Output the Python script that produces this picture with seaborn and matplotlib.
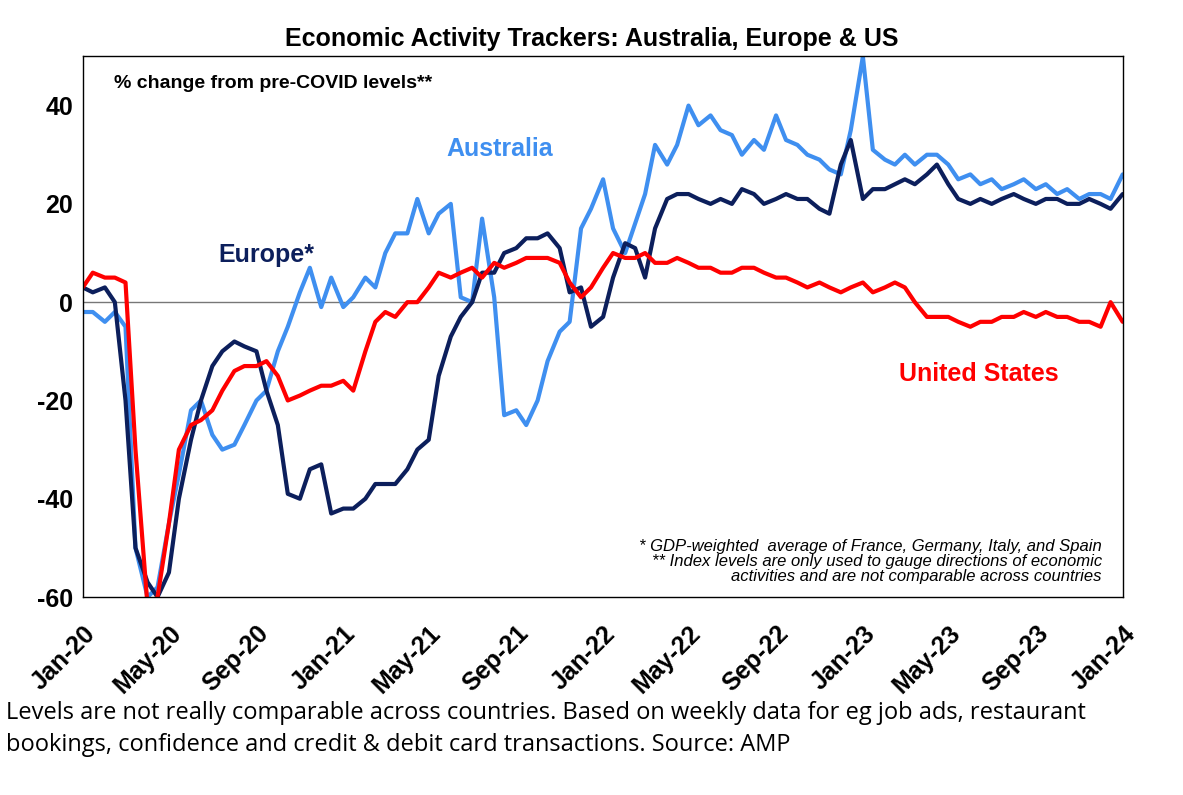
import pandas as pd
import numpy as np
import matplotlib.pyplot as plt
import seaborn as sns

sns.set_style("white")
plt.rcParams['font.family'] = ['Liberation Sans', 'DejaVu Sans']
plt.rcParams['text.color'] = 'black'
plt.rcParams['axes.unicode_minus'] = False

# semi-monthly observation dates
dates = pd.date_range("2020-01-01", "2024-01-01", freq="SMS")

australia = [-2, -2, -4, -2, -5, -50, -60, -58, -45, -35, -22, -20, -27, -30, -29, -25,
             -20, -18, -10, -5, 2, 7, -1, 5, -1, 1, 5, 3, 10, 14, 14, 21, 14, 18, 20, 1,
             0, 17, 1, -23, -22, -25, -20, -12, -6, -4, 15, 19, 25, 15, 10, 16, 22, 32,
             28, 32, 40, 36, 38, 35, 34, 30, 33, 31, 38, 33, 32, 30, 29, 27, 26, 35,
             50, 31, 29, 28, 30, 28, 30, 30, 28, 25, 26, 24, 25, 23, 24, 25, 23, 24, 22, 23,
             21, 22, 22, 21, 26, 19]
europe = [3, 2, 3, 0, -20, -50, -57, -60, -55, -40, -28, -20, -13, -10, -8, -9,
          -10, -18, -25, -39, -40, -34, -33, -43, -42, -42, -40, -37, -37, -37, -34, -30,
          -28, -15, -7, -3, 0, 6, 6, 10, 11, 13, 13, 14, 11, 2, 3, -5, -3, 5,
          12, 11, 5, 15, 21, 22, 22, 21, 20, 21, 20, 23, 22, 20, 21, 22, 21, 21,
          19, 18, 28, 33, 21, 23, 23, 24, 25, 24, 26, 28, 24, 21, 20, 21, 20, 21,
          22, 21, 20, 21, 21, 20, 20, 21, 20, 19, 22, 18]
us = [3, 6, 5, 5, 4, -30, -62, -60, -45, -30, -25, -24, -22, -18, -14, -13,
      -13, -12, -15, -20, -19, -18, -17, -17, -16, -18, -10, -4, -2, -3, 0, 0,
      3, 6, 5, 6, 7, 5, 8, 7, 8, 9, 9, 9, 8, 4, 1, 3, 7, 10,
      9, 9, 10, 8, 8, 9, 8, 7, 7, 6, 6, 7, 7, 6, 5, 5, 4, 3,
      4, 3, 2, 3, 4, 2, 3, 4, 3, 0, -3, -3, -3, -4, -5, -4, -4,
      -3, -3, -2, -3, -2, -3, -3, -4, -4, -5, 0, -4, -2]

df = pd.DataFrame({"date": dates, "Australia": australia[:len(dates)],
                   "Europe": europe[:len(dates)], "US": us[:len(dates)]})

fig = plt.figure(figsize=(11.83, 7.95), dpi=100)
ax = fig.add_axes([0.070, 0.249, 0.879, 0.680])
sns.lineplot(data=df, x="date", y="Australia", color="#3f8ff0", lw=3, ax=ax)
sns.lineplot(data=df, x="date", y="Europe", color="#0c1f5c", lw=3, ax=ax)
sns.lineplot(data=df, x="date", y="US", color="#ff0000", lw=3, ax=ax)
ax.axhline(0, color="#777777", lw=1, zorder=0)

ax.set_xlim(pd.Timestamp("2020-01-01"), pd.Timestamp("2024-01-01"))
ax.set_ylim(-60, 50)
ax.set_yticks([-60, -40, -20, 0, 20, 40])
ticks = pd.date_range("2020-01-01", "2024-01-01", freq="4MS")
ax.set_xticks(ticks)
ax.set_xticklabels([t.strftime("%b-%y") for t in ticks], rotation=45, ha="right",
                   rotation_mode="anchor", fontsize=18, fontweight="bold")
ax.tick_params(axis="x", pad=14, colors="black")
ax.tick_params(axis="y", labelsize=18, colors="black")
for t in ax.get_yticklabels():
    t.set_fontweight("bold")
ax.set_xlabel("")
ax.set_ylabel("")
for s in ax.spines.values():
    s.set_color("black")
    s.set_linewidth(1)

fig.text(0.5, 0.942, "Economic Activity Trackers: Australia, Europe & US", ha="center",
         fontsize=18, fontweight="bold")
ax.text(0.03, 0.965, "% change from pre-COVID levels**", transform=ax.transAxes,
        fontsize=14, fontweight="bold", va="top")
ax.text(0.35, 0.815, "Australia", transform=ax.transAxes, color="#3f8ff0",
        fontsize=18, fontweight="bold")
ax.text(0.13, 0.62, "Europe*", transform=ax.transAxes, color="#0c1f5c",
        fontsize=18, fontweight="bold")
ax.text(0.785, 0.40, "United States", transform=ax.transAxes, color="#ff0000",
        fontsize=18, fontweight="bold")
ax.text(0.98, 0.025, "* GDP-weighted  average of France, Germany, Italy, and Spain\n"
        "** Index levels are only used to gauge directions of economic\n"
        "activities and are not comparable across countries",
        transform=ax.transAxes, ha="right", va="bottom", fontsize=12,
        style="italic", linespacing=1.0)

fig.text(0.005, 0.055, "Levels are not really comparable across countries. Based on weekly data for eg job ads, restaurant\n"
         "bookings, confidence and credit & debit card transactions. Source: AMP",
         fontsize=17, family=["Open Sans", "DejaVu Sans"], linespacing=1.45)

fig.savefig("out.png", dpi=100)
